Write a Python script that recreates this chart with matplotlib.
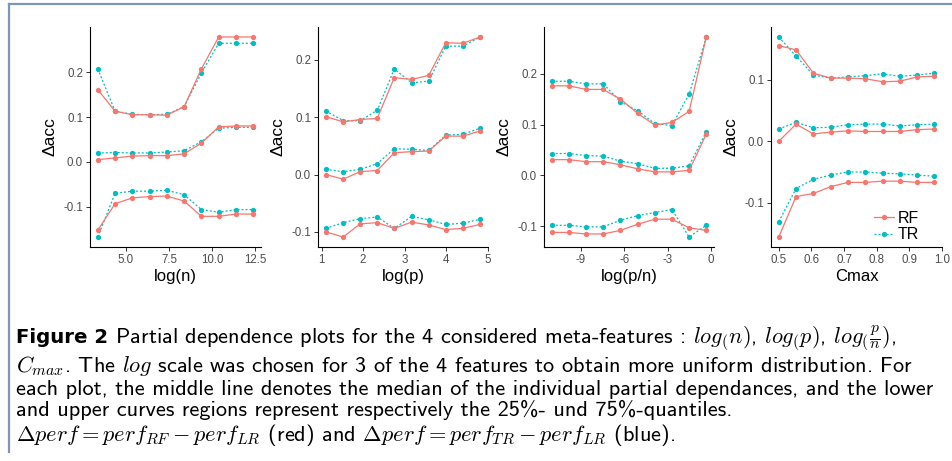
import matplotlib
matplotlib.use("Agg")

import matplotlib.pyplot as plt
from matplotlib.lines import Line2D
from matplotlib.ticker import FormatStrFormatter

# ---------------------------
# DATA
# ---------------------------

RED = "#F8766D"
TEAL = "#00BFC4"

# panel 1 : log(n)
x_logn = [3.37, 4.37, 5.37, 6.37, 7.37, 8.37, 9.37, 10.37, 11.37, 12.37]
rf_logn_hi = [0.161, 0.113, 0.105, 0.105, 0.104, 0.123, 0.207, 0.278, 0.278, 0.278]
tr_logn_hi = [0.207, 0.113, 0.106, 0.105, 0.106, 0.123, 0.198, 0.264, 0.264, 0.264]
rf_logn_mid = [0.005, 0.009, 0.013, 0.014, 0.014, 0.018, 0.042, 0.078, 0.080, 0.080]
tr_logn_mid = [0.020, 0.021, 0.020, 0.020, 0.022, 0.025, 0.045, 0.075, 0.077, 0.077]
rf_logn_lo = [-0.152, -0.093, -0.080, -0.077, -0.076, -0.087, -0.121, -0.121, -0.116, -0.116]
tr_logn_lo = [-0.167, -0.070, -0.065, -0.065, -0.063, -0.073, -0.106, -0.112, -0.106, -0.106]

# panel 2 : log(p)
x_logp = [1.10, 1.52, 1.93, 2.34, 2.75, 3.17, 3.58, 3.99, 4.40, 4.82]
rf_logp_hi = [0.101, 0.092, 0.096, 0.098, 0.169, 0.166, 0.173, 0.230, 0.229, 0.240]
tr_logp_hi = [0.111, 0.094, 0.094, 0.112, 0.184, 0.160, 0.163, 0.224, 0.224, 0.240]
rf_logp_mid = [0.000, -0.008, 0.005, 0.007, 0.038, 0.040, 0.041, 0.067, 0.067, 0.076]
tr_logp_mid = [0.009, 0.005, 0.009, 0.019, 0.045, 0.044, 0.042, 0.069, 0.070, 0.081]
rf_logp_lo = [-0.100, -0.109, -0.086, -0.084, -0.094, -0.083, -0.088, -0.096, -0.094, -0.087]
tr_logp_lo = [-0.094, -0.084, -0.077, -0.074, -0.094, -0.073, -0.079, -0.087, -0.085, -0.078]

# panel 3 : log(p/n)
x_logpn = [-11.0, -9.82, -8.63, -7.45, -6.26, -5.08, -3.89, -2.71, -1.52, -0.34]
rf_logpn_hi = [0.176, 0.176, 0.169, 0.169, 0.150, 0.122, 0.099, 0.104, 0.126, 0.272]
tr_logpn_hi = [0.185, 0.185, 0.180, 0.180, 0.145, 0.127, 0.102, 0.098, 0.160, 0.272]
rf_logpn_mid = [0.031, 0.031, 0.027, 0.027, 0.021, 0.013, 0.007, 0.007, 0.010, 0.081]
tr_logpn_mid = [0.043, 0.043, 0.039, 0.038, 0.028, 0.023, 0.014, 0.014, 0.019, 0.086]
rf_logpn_lo = [-0.112, -0.112, -0.115, -0.115, -0.108, -0.096, -0.086, -0.086, -0.103, -0.108]
tr_logpn_lo = [-0.098, -0.098, -0.101, -0.101, -0.088, -0.079, -0.073, -0.067, -0.121, -0.098]

# panel 4 : Cmax
x_cmax = [0.500, 0.553, 0.606, 0.659, 0.712, 0.765, 0.818, 0.871, 0.924, 0.976]
rf_cmax_hi = [0.156, 0.149, 0.111, 0.103, 0.103, 0.102, 0.097, 0.098, 0.105, 0.106]
tr_cmax_hi = [0.170, 0.139, 0.108, 0.103, 0.105, 0.107, 0.110, 0.106, 0.108, 0.111]
rf_cmax_mid = [0.000, 0.028, 0.012, 0.015, 0.017, 0.016, 0.016, 0.016, 0.019, 0.020]
tr_cmax_mid = [0.020, 0.031, 0.022, 0.023, 0.027, 0.028, 0.028, 0.025, 0.027, 0.028]
rf_cmax_lo = [-0.156, -0.090, -0.085, -0.074, -0.067, -0.067, -0.065, -0.065, -0.067, -0.067]
tr_cmax_lo = [-0.131, -0.077, -0.062, -0.055, -0.050, -0.050, -0.052, -0.053, -0.055, -0.057]

xlabels = ["log(n)", "log(p)", "log(p/n)", "Cmax"]
xticks = [[5.0, 7.5, 10.0, 12.5], [1, 2, 3, 4, 5], [-9, -6, -3, 0],
          [0.5, 0.6, 0.7, 0.8, 0.9, 1.0]]
xtick_labels = [["5.0", "7.5", "10.0", "12.5"], ["1", "2", "3", "4", "5"],
                ["-9", "-6", "-3", "0"], ["0.5", "0.6", "0.7", "0.8", "0.9", "1.0"]]
yticks = [[-0.1, 0.0, 0.1, 0.2], [-0.1, 0.0, 0.1, 0.2], [-0.1, 0.0, 0.1, 0.2],
          [-0.1, 0.0, 0.1]]

panels = [
    (x_logn, [rf_logn_hi, rf_logn_mid, rf_logn_lo], [tr_logn_hi, tr_logn_mid, tr_logn_lo]),
    (x_logp, [rf_logp_hi, rf_logp_mid, rf_logp_lo], [tr_logp_hi, tr_logp_mid, tr_logp_lo]),
    (x_logpn, [rf_logpn_hi, rf_logpn_mid, rf_logpn_lo], [tr_logpn_hi, tr_logpn_mid, tr_logpn_lo]),
    (x_cmax, [rf_cmax_hi, rf_cmax_mid, rf_cmax_lo], [tr_cmax_hi, tr_cmax_mid, tr_cmax_lo]),
]

caption_lines = [
    r" Partial dependence plots for the 4 considered meta-features : $log_{(}n)$, $log_{(}p)$, $log_{(}\frac{p}{n})$,",
    r"$C_{max}$. The $log$ scale was chosen for 3 of the 4 features to obtain more uniform distribution. For",
    r"each plot, the middle line denotes the median of the individual partial dependances, and the lower",
    r"and upper curves regions represent respectively the 25%- und 75%-quantiles.",
    r"$\Delta perf = perf_{RF} - perf_{LR}$ (red) and $\Delta perf = perf_{TR} - perf_{LR}$ (blue).",
]

# ---------------------------
# FIGURE
# ---------------------------

W, H = 953, 461
plt.rcParams["font.family"] = ["Liberation Sans", "DejaVu Sans"]
plt.rcParams["mathtext.fontset"] = "cm"

fig = plt.figure(figsize=(W / 100, H / 100), dpi=100)

# axes boxes in pixels: left, right
boxes = [(90, 261), (318, 488), (544, 714), (771, 942)]
top_px, bot_px = 27, 247

for i, (box, (xs, rfs, trs)) in enumerate(zip(boxes, panels)):
    l, r = box
    ax = fig.add_axes([l / W, (H - bot_px) / H, (r - l) / W, (bot_px - top_px) / H])
    for k in range(3):
        ax.plot(xs, trs[k], color=TEAL, lw=0.9, ls=(0, (1.6, 1.6)), marker="o",
                ms=3.8, mec="none", label="TR" if k == 0 else None)
        ax.plot(xs, rfs[k], color=RED, lw=0.9, marker="o", ms=3.8, mec="none",
                label="RF" if k == 0 else None)
    ax.spines["top"].set_visible(False)
    ax.spines["right"].set_visible(False)
    for s in ("left", "bottom"):
        ax.spines[s].set_linewidth(0.8)
        ax.spines[s].set_color("black")
    ax.set_xticks(xticks[i])
    ax.set_xticklabels(xtick_labels[i])
    ax.set_yticks(yticks[i])
    ax.yaxis.set_major_formatter(FormatStrFormatter("%.1f"))
    ax.tick_params(length=3, width=0.7, color="#333333", labelcolor="#4D4D4D",
                   labelsize=8.3, pad=2)
    ax.set_xlabel(xlabels[i], fontsize=12, labelpad=2)
    ax.set_ylabel("Δacc", fontsize=12.5, labelpad=4)
    if i == 3:
        h, lab = ax.get_legend_handles_labels()
        ax.legend(h[::-1], lab[::-1], loc="lower right", frameon=False,
                  fontsize=11.5, handlelength=1.3, handletextpad=0.2,
                  labelspacing=0.1, borderaxespad=0.3, bbox_to_anchor=(0.93, -0.03))

# frame lines
frame_c = "#7D95B7"
fig.add_artist(Line2D([9.5 / W, 1], [1 - 4.5 / H, 1 - 4.5 / H], color=frame_c, lw=1.6,
                      transform=fig.transFigure))
fig.add_artist(Line2D([9.5 / W, 9.5 / W], [1 - 4.5 / H, 1 - 452 / H], color=frame_c,
                      lw=1.6, transform=fig.transFigure))

# caption
x0 = 16 / W
baselines = [343, 367, 390, 413, 436]
cap_size = 16.1
renderer = fig.canvas.get_renderer()
bold = fig.text(x0, 1 - baselines[0] / H, "Figure 2", fontsize=14.2,
                fontweight="bold", va="baseline", family=["DejaVu Sans"])
bb = bold.get_window_extent(renderer)
rest = fig.text(bb.x1 / W, 1 - baselines[0] / H, caption_lines[0], fontsize=cap_size,
                va="baseline", family=["cmss10", "DejaVu Sans"])
rows = [rest]
for line, yb in zip(caption_lines[1:], baselines[1:]):
    rows.append(fig.text(x0, 1 - yb / H, line, fontsize=cap_size, va="baseline",
                         family=["cmss10", "DejaVu Sans"]))

# push a line down a little if its box touches the one above
for prev, cur in zip(rows[:-1], rows[1:]):
    pb = prev.get_window_extent(renderer)
    cb = cur.get_window_extent(renderer)
    if cb.y1 > pb.y0 - 1:
        xx, yy = cur.get_position()
        cur.set_position((xx, yy - (cb.y1 - pb.y0 + 1.5) / H))

fig.savefig("out.png", dpi=100)
